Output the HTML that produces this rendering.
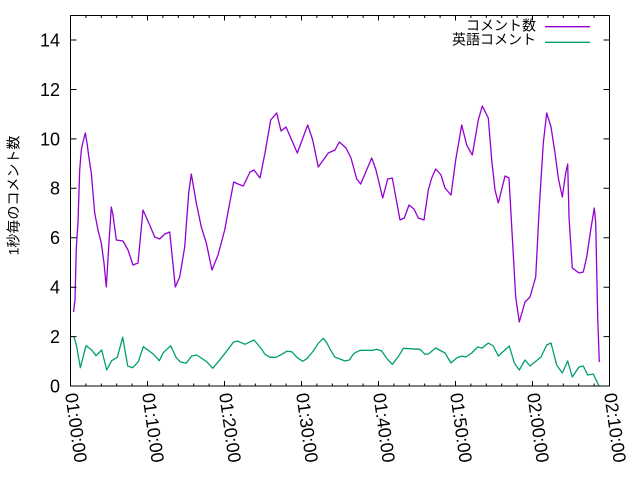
<!DOCTYPE html>
<html><head><meta charset="utf-8"><style>
html,body{margin:0;padding:0;background:#fff;}
svg{display:block;}
text{font-family:"Liberation Sans","Noto Sans CJK JP",sans-serif;fill:#000;}
</style></head><body>
<svg width="640" height="480" viewBox="0 0 640 480" xmlns="http://www.w3.org/2000/svg">
<rect x="0" y="0" width="640" height="480" fill="#fff"/>
<!-- series -->
<polyline fill="none" stroke="#9400d3" stroke-width="1.3" stroke-linejoin="round" points="73.5,312 75,300 76.3,248 78,222 79.7,170 81.3,150 83,142 85.3,133 87,143 89,158 91.3,173 93,193 94.7,213 98,230 101.3,243 104,263 106.3,287 108.7,247 111.3,207 113,215 116.3,240 123,241 128,250 133,265 138,263 143,210 149.7,225 154.7,237 159.7,239 164.7,234 169.7,232 175.3,287 179.7,277 184.7,247 188.7,193 191.3,174 196.3,203 201.3,227 206.3,243 212,270 218,255 224.7,230 229.7,203 233.7,182 238,184 243.3,186 250,172 254,170 260,178 265,153 270.7,120 276.7,113 281,131 286,127 291.7,140 297.3,153 307.7,125 312.7,140 318.3,167 328.3,153 335,150 339.3,142 346,148 351,158 356.7,179 360.7,184 371.7,158 376,170 382.7,198 387.7,179 392.3,178 396.7,202 400,220 404.3,218 409,205 414,209 418.3,218 424,220 428.3,190 431.7,178 435.7,169 441,175 445,188 451,195 455.7,160 461.7,125 466.7,145 472.3,155 478.3,120 482.3,106 488.3,118 491.7,160 495,190 498.3,203 505,176 509,178 512.3,237 515.7,297 519.3,322 525,302 530,297 535.7,277 539.3,207 543.3,143 546.7,113 551,127 555,153 558.3,178 562.3,197 565.7,173 567.7,164 569,217 572.3,268 579,273 583.3,272 586.7,257 590.7,230 594.3,208 595.7,223 597.7,317 599.3,362"/>
<polyline fill="none" stroke="#009e73" stroke-width="1.3" stroke-linejoin="round" points="74,336.7 76.7,346.7 80.3,367.7 86,345.7 91.7,350 96,355.7 101.7,350 106.7,370 111.7,360.7 117.3,357.3 122.7,337.3 127.7,366 132.7,367.7 138.3,361.7 143.3,346.7 153.3,354 159.3,360.7 163.3,352.7 170.7,345.7 176,357.3 180,361.7 186,363.3 191.7,356 196.7,355 206.7,361.7 212.7,368.3 218.3,361.7 225,353.3 230,346.7 233.3,342.3 237.3,341 245,344.3 248.3,342.7 254,340 258.3,345 261.7,349.3 265,354.3 270,357.3 276,357.3 281.7,354.3 286.7,351.3 291.7,351.7 297.3,357.7 302.7,361.3 307.3,358.3 313.3,351 318.3,343.3 323.3,338.3 326.7,342.7 330,349 335,357.3 340,359 345,361 349.3,360 354,353.3 360,350.3 373.3,350.3 376.7,349.3 381.7,351 386.7,358.3 392.3,364.3 398.3,356.7 403.3,348.3 410,348.7 420,349.3 425,354.3 428.3,354 435.7,348 445,353 451,363 456.7,358 461.7,356 466,357 471.7,353 477.7,347 482.3,348 488.3,343 493.3,346 498.3,356 509.3,346 514.3,363 519.3,370 525,360 530,366 541,357 546.7,345 551,343 556.7,365 562.3,373 567.7,361 572.3,377 579,367 583.3,366 587.7,375 593.3,374 599,386"/>
<!-- border -->
<rect x="70.5" y="15.5" width="539" height="370.5" fill="none" stroke="#000" stroke-width="1"/>
<!-- y ticks -->
<path stroke="#000" stroke-width="1" fill="none" d="M70.5 336.6h6M70.5 287.2h6M70.5 237.7h6M70.5 188.3h6M70.5 138.9h6M70.5 89.5h6M70.5 40h6
M609.5 336.6h-6M609.5 287.2h-6M609.5 237.7h-6M609.5 188.3h-6M609.5 138.9h-6M609.5 89.5h-6M609.5 40h-6"/>
<!-- x major ticks -->
<path stroke="#000" stroke-width="1" fill="none" d="M147.5 386v-5M224.5 386v-5M301.5 386v-5M378.5 386v-5M455.5 386v-5M532.5 386v-5
M147.5 15.5v5M224.5 15.5v5M301.5 15.5v5M378.5 15.5v5M455.5 15.5v5M532.5 15.5v5"/>
<!-- x minor ticks -->
<path stroke="#000" stroke-width="1" fill="none" d="M85.9 386v-2.5M101.3 386v-2.5M116.7 386v-2.5M132.1 386v-2.5M162.9 386v-2.5M178.3 386v-2.5M193.7 386v-2.5M209.1 386v-2.5M239.9 386v-2.5M255.3 386v-2.5M270.7 386v-2.5M286.1 386v-2.5M316.9 386v-2.5M332.3 386v-2.5M347.7 386v-2.5M363.1 386v-2.5M393.9 386v-2.5M409.3 386v-2.5M424.7 386v-2.5M440.1 386v-2.5M470.9 386v-2.5M486.3 386v-2.5M501.7 386v-2.5M517.1 386v-2.5M547.9 386v-2.5M563.3 386v-2.5M578.7 386v-2.5M594.1 386v-2.5
M85.9 15.5v2.5M101.3 15.5v2.5M116.7 15.5v2.5M132.1 15.5v2.5M162.9 15.5v2.5M178.3 15.5v2.5M193.7 15.5v2.5M209.1 15.5v2.5M239.9 15.5v2.5M255.3 15.5v2.5M270.7 15.5v2.5M286.1 15.5v2.5M316.9 15.5v2.5M332.3 15.5v2.5M347.7 15.5v2.5M363.1 15.5v2.5M393.9 15.5v2.5M409.3 15.5v2.5M424.7 15.5v2.5M440.1 15.5v2.5M470.9 15.5v2.5M486.3 15.5v2.5M501.7 15.5v2.5M517.1 15.5v2.5M547.9 15.5v2.5M563.3 15.5v2.5M578.7 15.5v2.5M594.1 15.5v2.5"/>
<!-- y tick labels -->
<g font-size="18" text-anchor="end">
<text x="60" y="392.4">0</text>
<text x="60" y="343">2</text>
<text x="60" y="293.6">4</text>
<text x="60" y="244.1">6</text>
<text x="60" y="194.7">8</text>
<text x="60" y="145.3">10</text>
<text x="60" y="95.9">12</text>
<text x="60" y="46.4">14</text>
</g>
<!-- x tick labels -->
<g font-size="18">
<text transform="translate(71.5,393) rotate(82)" x="0" y="6.4">01:00:00</text>
<text transform="translate(148.5,393) rotate(82)" x="0" y="6.4">01:10:00</text>
<text transform="translate(225.5,393) rotate(82)" x="0" y="6.4">01:20:00</text>
<text transform="translate(302.5,393) rotate(82)" x="0" y="6.4">01:30:00</text>
<text transform="translate(379.5,393) rotate(82)" x="0" y="6.4">01:40:00</text>
<text transform="translate(456.5,393) rotate(82)" x="0" y="6.4">01:50:00</text>
<text transform="translate(533.5,393) rotate(82)" x="0" y="6.4">02:00:00</text>
<text transform="translate(610.5,393) rotate(82)" x="0" y="6.4">02:10:00</text>
</g>
<!-- y axis label -->
<text font-size="14" text-anchor="middle" transform="translate(18.3,195.5) rotate(-90)" x="0" y="0">1秒毎のコメント数</text>
<!-- legend -->
<g font-size="14" text-anchor="end">
<text x="536" y="30.3">コメント数</text>
<text x="536" y="44.6">英語コメント</text>
</g>
<line x1="545" y1="26.7" x2="590" y2="26.7" stroke="#9400d3" stroke-width="1.3"/>
<line x1="545" y1="42.3" x2="590" y2="42.3" stroke="#009e73" stroke-width="1.3"/>
</svg>
</body></html>
